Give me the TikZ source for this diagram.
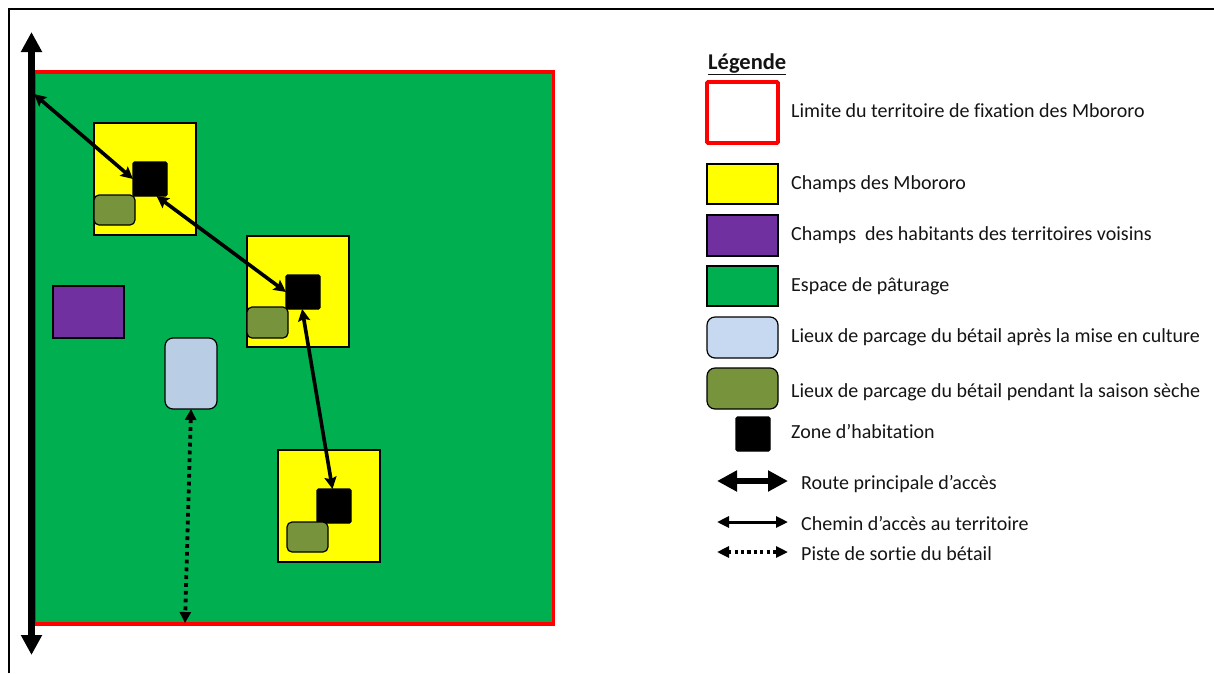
\documentclass[tikz,border=0pt]{standalone}
\usepackage{fontspec}
\setmainfont[Ligatures=NoCommon]{Carlito}
\usetikzlibrary{arrows.meta}
\definecolor{pasture}{HTML}{00B050}
\definecolor{fieldy}{HTML}{FFFF00}
\definecolor{fieldv}{HTML}{7030A0}
\definecolor{parkblue}{HTML}{B9CDE5}
\definecolor{parkblue2}{HTML}{C6D9F1}
\definecolor{parkolive}{HTML}{77933C}
\definecolor{limitred}{HTML}{FF0000}
\tikzset{
  x=1pt,y=-1pt,
  box/.style={anchor=north west,inner sep=0pt,outer sep=0pt,draw=black,line width=1.2pt},
  yellowbox/.style={box,fill=fieldy},
  housebox/.style={box,fill=black,rounded corners=1.5pt},
  olivebox/.style={box,fill=parkolive,rounded corners=5pt},
  bluebox/.style={box,fill=parkblue,rounded corners=8pt},
  purplebox/.style={box,fill=fieldv},
  greenbox/.style={box,fill=pasture},
  limitbox/.style={box,draw=limitred,line width=3.8pt,fill=white,rounded corners=1pt},
  lab/.style={anchor=base west,inner sep=0pt,font=\fontsize{20}{22}\selectfont,text=black!92},
  road/.style={line width=6.5pt,{Triangle[length=20pt,width=20pt]}-{Triangle[length=20pt,width=20pt]}},
  path1/.style={line width=3.6pt,{Stealth[length=12pt,width=12pt,inset=2pt]}-{Stealth[length=12pt,width=12pt,inset=2pt]}},
  trail/.style={line width=3.8pt,dash pattern=on 3.8pt off 4pt,{Triangle[length=11pt,width=11pt]}-{Triangle[length=11pt,width=11pt]}},
}
\begin{document}
\begin{tikzpicture}
\useasboundingbox (0,0) rectangle (1214,673);
% outer frame
\coordinate (fa) at (9,673);
\coordinate (fb) at (9,9);
\coordinate (fc) at (1214,9);
\draw[line width=2.2pt,line join=miter] (fa) -- (fb) -- (fc);
% territory
\node[box,draw=limitred,line width=3.8pt,fill=pasture,minimum width=519.5pt,minimum height=552pt] (terr) at (34,72) {};
% fields
\node[yellowbox,minimum width=102pt,minimum height=112pt] (f1) at (94,123) {};
\node[yellowbox,minimum width=102pt,minimum height=111pt] (f2) at (247,236) {};
\node[yellowbox,minimum width=102pt,minimum height=112pt] (f3) at (278,450) {};
\node[purplebox,minimum width=71pt,minimum height=52pt] (v1) at (53,286) {};
\node[bluebox,minimum width=52pt,minimum height=71pt] (b1) at (165,338) {};
% houses
\node[housebox,minimum width=34pt,minimum height=34pt] (h1) at (133,162) {};
\node[housebox,minimum width=34pt,minimum height=34pt] (h2) at (286,275) {};
\node[housebox,minimum width=34pt,minimum height=34pt] (h3) at (317,489) {};
% olive parks
\node[olivebox,minimum width=41pt,minimum height=30pt] (o1) at (94,195) {};
\node[olivebox,minimum width=41pt,minimum height=31pt] (o2) at (247,307) {};
\node[olivebox,minimum width=41pt,minimum height=30pt] (o3) at (287,522) {};
% connectors
\coordinate (rt) at (31.5,32);
\coordinate (rb) at (31.5,655);
\coordinate (e1) at (34,94);
\coordinate (e2) at (185,623);
\draw[road] (rt) -- (rb);
\draw[path1] (e1) -- (h1.west);
\draw[path1] (h1.-69) -- (h2.west);
\draw[path1] (h2.-93) -- (h3.95);
\draw[trail] (b1.south) -- (e2);
% legend
\node[lab,font=\fontsize{22.5}{24}\selectfont\bfseries] (ltitle) at (708,69) {\underline{Légende}};
\node[limitbox,minimum width=71pt,minimum height=61pt] (k1) at (707,82) {};
\node[yellowbox,minimum width=71pt,minimum height=40pt] (k2) at (707,164) {};
\node[purplebox,minimum width=71pt,minimum height=41pt] (k3) at (707,215) {};
\node[greenbox,minimum width=71pt,minimum height=40pt] (k4) at (707,266) {};
\node[box,fill=parkblue2,rounded corners=8pt,minimum width=71pt,minimum height=41pt] (k5) at (707,317) {};
\node[olivebox,rounded corners=8pt,minimum width=71pt,minimum height=41pt] (k6) at (707,368) {};
\node[housebox,minimum width=34pt,minimum height=34pt] (k7) at (736,417) {};
\node[lab] (t1) at (791,117.5) {Limite du territoire de fixation des Mbororo};
\node[lab] (t2) at (791,189.5) {Champs des Mbororo};
\node[lab] (t3) at (791,240.5) {Champs\ \ des habitants des territoires voisins};
\node[lab] (t4) at (791,291.5) {Espace de pâturage};
\node[lab] (t5) at (791,342.5) {Lieux de parcage du bétail après la mise en culture};
\node[lab] (t6) at (791,397.5) {Lieux de parcage du bétail pendant la saison sèche};
\node[lab] (t7) at (791,438.5) {Zone d’habitation};
\node[lab] (t8) at (801,489.5) {Route principale d’accès};
\node[lab] (t9) at (801,530.5) {Chemin d’accès au territoire};
\node[lab] (t10) at (801,560.5) {Piste de sortie du bétail};
\coordinate (a1) at (717,481);
\coordinate (a2) at (788,481);
\coordinate (a3) at (717,522);
\coordinate (a4) at (788,522);
\coordinate (a5) at (717,552);
\coordinate (a6) at (788,552);
\draw[line width=5.5pt,{Triangle[length=20pt,width=20pt]}-{Triangle[length=20pt,width=20pt]}] (a1) -- (a2);
\draw[line width=3pt,{Triangle[length=12pt,width=11pt]}-{Triangle[length=12pt,width=11pt]}] (a3) -- (a4);
\draw[line width=3.2pt,dash pattern=on 3.2pt off 3.2pt,{Triangle[length=12pt,width=11pt]}-{Triangle[length=12pt,width=11pt]}] (a5) -- (a6);
\end{tikzpicture}
\end{document}
